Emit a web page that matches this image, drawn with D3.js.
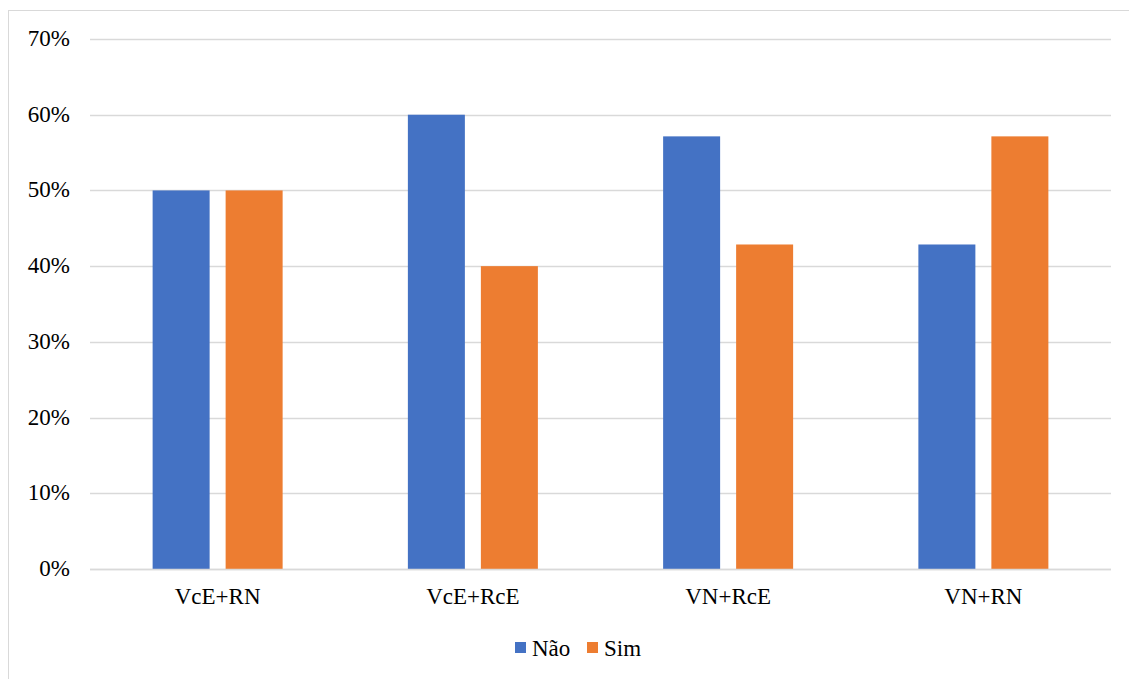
<!DOCTYPE html>
<html>
<head>
<meta charset="utf-8">
<script src="https://cdn.jsdelivr.net/npm/d3@7"></script>
<style>
  html, body { margin: 0; padding: 0; background: #fff; }
  svg { display: block; }
</style>
</head>
<body>
<svg id="chart" width="1129" height="679"></svg>
<script>
const categories = ["VcE+RN", "VcE+RcE", "VN+RcE", "VN+RN"];
const seriesNames = ["Não", "Sim"];
const naoValues = [0.50, 0.60, 0.5714, 0.4286];
const simValues = [0.50, 0.40, 0.4286, 0.5714];
const yTicks = [0, 0.1, 0.2, 0.3, 0.4, 0.5, 0.6, 0.7];
const colors = ["#4472C4", "#ED7D31"];

const FONT = '"Liberation Serif"';
const FONT_SIZE = "23px";
const svg = d3.select("#chart");
const W = 1129, H = 679;

// outer chart frame
svg.append("rect")
  .attr("x", 8.5).attr("y", 10.5)
  .attr("width", W + 10).attr("height", H + 10)
  .attr("fill", "none").attr("stroke", "#d9d9d9").attr("stroke-width", 1);

const plot = { left: 90, right: 1111, top: 39, bottom: 569 };

const x = d3.scaleBand()
  .domain(categories)
  .range([plot.left, plot.right])
  .paddingInner(0).paddingOuter(0);

const y = d3.scaleLinear().domain([0, 0.7]).range([plot.bottom, plot.top]);

// horizontal gridlines
svg.append("g")
  .selectAll("line")
  .data(yTicks)
  .join("line")
  .attr("x1", plot.left).attr("x2", plot.right)
  .attr("y1", d => Math.round(y(d)) + 0.5).attr("y2", d => Math.round(y(d)) + 0.5)
  .attr("stroke", "#d9d9d9").attr("stroke-width", 1.5);

// y axis labels
const yAxis = d3.axisLeft(y).tickValues(yTicks).tickFormat(d3.format(".0%")).tickSize(0).tickPadding(0);
const gy = svg.append("g").attr("transform", "translate(70,0)").call(yAxis);
gy.attr("font-family", null).attr("font-size", null);
gy.select(".domain").remove();
gy.selectAll("text")
  .attr("dy", "0.28em")
  .style("font-family", FONT)
  .style("font-size", FONT_SIZE)
  .style("fill", "#000");

// bars
const barW = 57, gap = 16;
const sub = d3.scaleOrdinal().domain(seriesNames).range([-(gap / 2 + barW), gap / 2]);
const rows = categories.map((c, i) => ({ cat: c, vals: [naoValues[i], simValues[i]] }));

const groups = svg.append("g").selectAll("g")
  .data(rows)
  .join("g")
  .attr("transform", d => `translate(${x(d.cat) + x.bandwidth() / 2},0)`);

groups.selectAll("rect")
  .data(d => d.vals.map((v, k) => ({ name: seriesNames[k], v, k })))
  .join("rect")
  .attr("x", d => sub(d.name))
  .attr("width", barW)
  .attr("y", d => y(d.v))
  .attr("height", d => y(0) - y(d.v))
  .attr("fill", d => colors[d.k]);

// baseline
svg.append("line")
  .attr("x1", plot.left).attr("x2", plot.right)
  .attr("y1", plot.bottom + 0.5).attr("y2", plot.bottom + 0.5)
  .attr("stroke", "#d9d9d9").attr("stroke-width", 1.5);

// x axis labels
const xAxis = d3.axisBottom(x).tickSize(0).tickPadding(0);
const gx = svg.append("g").attr("transform", `translate(0,${plot.bottom})`).call(xAxis);
gx.attr("font-family", null).attr("font-size", null);
gx.select(".domain").remove();
gx.selectAll("text")
  .attr("y", 35).attr("dy", null)
  .style("font-family", FONT)
  .style("font-size", FONT_SIZE)
  .style("fill", "#000");

// legend
const legend = svg.append("g").attr("transform", "translate(515,642)");
const items = [
  { name: seriesNames[0], color: colors[0], dx: 0 },
  { name: seriesNames[1], color: colors[1], dx: 72 }
];
const li = legend.selectAll("g").data(items).join("g")
  .attr("transform", d => `translate(${d.dx},0)`);
li.append("rect").attr("width", 11).attr("height", 11).attr("fill", d => d.color);
li.append("text")
  .attr("x", 17).attr("y", 14)
  .style("font-family", FONT)
  .style("font-size", FONT_SIZE)
  .style("fill", "#000")
  .text(d => d.name);
</script>
</body>
</html>
